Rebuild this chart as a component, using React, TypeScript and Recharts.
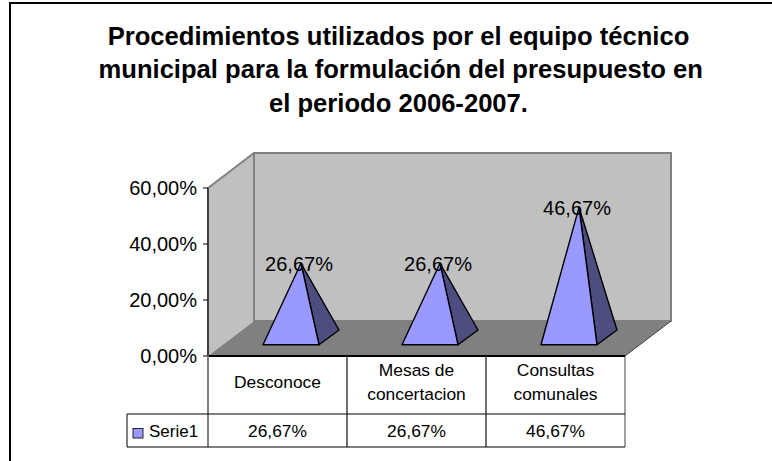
import { Bar, BarChart, CartesianGrid, LabelList, ReferenceArea, XAxis, YAxis } from "recharts";

const titleLines = [
  "Procedimientos utilizados por el equipo técnico",
  "municipal para la formulación del presupuesto en",
  "el periodo 2006-2007."
];
const categories = [["Desconoce"], ["Mesas de", "concertacion"], ["Consultas", "comunales"]];
const seriesName = "Serie1";
const values = [26.67, 26.67, 46.67];
const yTicks = [0, 20, 40, 60];

const data = categories.map((lines, i) => ({ name: lines.join(" "), value: values[i] }));
const pct = (v: number) => v.toFixed(2).replace(".", ",") + "%";

const FONT = "'Liberation Sans', Arial, sans-serif";
const DEPTH_X = 46;
const DEPTH_Y = 35;
const CELL_W = 139;

function Walls({ x, y, width, height }: any) {
  const b = y + height;
  const r = x + width;
  return (
    <g>
      <polygon points={`${x},${y} ${x + DEPTH_X},${y - DEPTH_Y} ${x + DEPTH_X},${b - DEPTH_Y} ${x},${b}`} fill="#c0c0c0" />
      <rect x={x + DEPTH_X} y={y - DEPTH_Y} width={width} height={height} fill="#c0c0c0" stroke="#808080" strokeWidth={2} />
      <polygon points={`${x},${b} ${x + DEPTH_X},${b - DEPTH_Y} ${r + DEPTH_X},${b - DEPTH_Y} ${r},${b}`} fill="#808080" />
      <line x1={x} y1={y} x2={x + DEPTH_X} y2={y - DEPTH_Y} stroke="#808080" strokeWidth={2} />
      <line x1={r} y1={b} x2={r + DEPTH_X} y2={b - DEPTH_Y} stroke="#404040" strokeWidth={1} />
    </g>
  );
}

function GridLine({ x1, x2, y1 }: any) {
  if (y1 > 340 || y1 < 195) return <g />;
  return (
    <g stroke="#000" strokeWidth={1} fill="none">
      <line x1={x1} y1={y1} x2={x1 + DEPTH_X} y2={y1 - DEPTH_Y} />
      <line x1={x1 + DEPTH_X} y1={y1 - DEPTH_Y} x2={x2 + DEPTH_X} y2={y1 - DEPTH_Y} />
    </g>
  );
}

function Pyramid({ x, y, width, height }: any) {
  const base = y + height - 11.3;
  const left = x + 13;
  const right = left + width;
  const backX = right + 20;
  const backY = base - 14.7;
  const apexX = left + width / 2 + 10;
  const apexY = y - 18;
  return (
    <g stroke="#000" strokeWidth={1.4} strokeLinejoin="round">
      <polygon points={`${right},${base} ${backX},${backY} ${apexX},${apexY}`} fill="#4d4d80" />
      <polygon points={`${left},${base} ${right},${base} ${apexX},${apexY}`} fill="#9999ff" />
    </g>
  );
}

function ValueLabel({ x, y, width, value }: any) {
  return (
    <text x={x + width / 2 + 21} y={y - 10} textAnchor="middle" fontSize={20} fill="#000" fontFamily={FONT}>
      {pct(value)}
    </text>
  );
}

function TableCell({ x, y, index }: any) {
  const left = x - CELL_W / 2;
  const right = x + CELL_W / 2;
  const rowY = y + 58;
  const bottom = y + 91;
  const lines = categories[index];
  const midY = y + 26;
  return (
    <g fontFamily={FONT} fontSize={17.4} fill="#000" textAnchor="middle">
      <line x1={left} y1={y} x2={left} y2={bottom} stroke={index === 0 ? "#808080" : "#404040"} strokeWidth={index === 0 ? 2 : 1} />
      <line x1={right} y1={y} x2={right} y2={bottom} stroke="#404040" />
      <line x1={left} y1={rowY} x2={right} y2={rowY} stroke="#000" />
      <line x1={left} y1={bottom} x2={right} y2={bottom} stroke="#000" />
      {lines.map((l, i) => (
        <text key={l} x={x} y={midY + 6 + (i - (lines.length - 1) / 2) * 24}>{l}</text>
      ))}
      <text x={x} y={rowY + 23}>{pct(values[index])}</text>
      {index === 0 && (
        <g>
          <line x1={left - 81} y1={rowY} x2={left} y2={rowY} stroke="#000" />
          <line x1={left - 81} y1={bottom} x2={left} y2={bottom} stroke="#000" />
          <line x1={left - 81} y1={rowY} x2={left - 81} y2={bottom} stroke="#000" />
          <rect x={left - 75} y={rowY + 14.5} width={10} height={9.5} fill="#9999ff" stroke="#222" strokeWidth={1} />
          <text x={left - 59} y={rowY + 23} textAnchor="start" fontSize={17}>{seriesName}</text>
        </g>
      )}
    </g>
  );
}

export default function App() {
  return (
    <div style={{ position: "absolute", left: 0, top: 0, width: 772, height: 461, overflow: "hidden", background: "#fff" }}>
      <div style={{ position: "absolute", left: 9, top: 2, right: -20, bottom: -20, borderLeft: "2px solid #000", borderTop: "2px solid #000" }} />
      <div
        style={{
          position: "absolute",
          left: 98.5,
          width: 600,
          top: 19.5,
          textAlign: "center",
          fontFamily: FONT,
          fontWeight: "bold",
          fontSize: 25.6,
          lineHeight: "33.5px",
          color: "#000",
          whiteSpace: "nowrap"
        }}
      >
        {titleLines.map((l) => (
          <div key={l}>{l}</div>
        ))}
      </div>
      <BarChart
        width={772}
        height={461}
        data={data}
        barSize={56}
        margin={{ top: 188, right: 147, bottom: 14, left: 0 }}
        style={{ position: "absolute", left: 0, top: 0 }}
      >
        <ReferenceArea y1={0} y2={60} ifOverflow="visible" shape={Walls} />
        <CartesianGrid vertical={false} horizontal={GridLine} />
        <XAxis
          dataKey="name"
          height={91}
          interval={0}
          tickSize={0}
          tickMargin={0}
          tickLine={false}
          axisLine={{ stroke: "#000", strokeWidth: 2 }}
          tick={TableCell}
        />
        <YAxis
          width={208}
          domain={[0, 60]}
          ticks={yTicks}
          tickFormatter={pct}
          tickSize={5}
          tickMargin={6}
          tick={{ fontSize: 20, fill: "#000", fontFamily: FONT }}
          axisLine={{ stroke: "#404040", strokeWidth: 2 }}
          tickLine={{ stroke: "#000" }}
        />
        <Bar dataKey="value" shape={Pyramid} isAnimationActive={false}>
          <LabelList dataKey="value" content={ValueLabel} />
        </Bar>
      </BarChart>
    </div>
  );
}
